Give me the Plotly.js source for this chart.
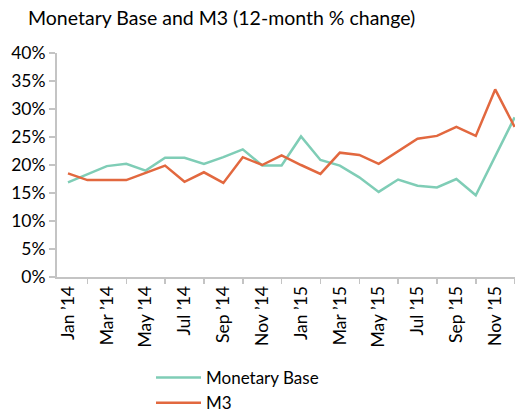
<!DOCTYPE html>
<html>
<head>
<meta charset="utf-8">
<script src="https://cdn.plot.ly/plotly-3.0.1.min.js"></script>
<style>html,body{margin:0;padding:0;background:#fff;}#chart{width:516px;height:412px;}</style>
</head>
<body>
<div id="chart"></div>
<script>
const months = ["Jan ’14","Feb ’14","Mar ’14","Apr ’14","May ’14","Jun ’14","Jul ’14","Aug ’14","Sep ’14","Oct ’14","Nov ’14","Dec ’14",
                "Jan ’15","Feb ’15","Mar ’15","Apr ’15","May ’15","Jun ’15","Jul ’15","Aug ’15","Sep ’15","Oct ’15","Nov ’15","Dec ’15"];
const monetaryBase = [16.9,18.4,19.8,20.2,19.0,21.3,21.3,20.2,21.4,22.8,19.9,19.9,25.1,20.9,19.9,17.8,15.2,17.4,16.3,16.0,17.5,14.6,21.6,28.5];
const m3 = [18.5,17.3,17.3,17.3,18.6,19.9,17.0,18.7,16.8,21.4,20.0,21.7,20.0,18.4,22.2,21.8,20.2,22.4,24.7,25.2,26.8,25.2,33.5,26.8];
const labelIdx = [0,2,4,6,8,10,12,14,16,18,20,22];

const idx = months.map((m,i)=>i);
const FONT = "Lato, 'Open Sans', sans-serif";
const data = [
  {x: idx, y: monetaryBase, name: "Monetary Base", type: "scatter", mode: "lines",
   line: {color: "#7fcdb6", width: 2.5}, hoverinfo: "skip"},
  {x: idx, y: m3, name: "M3", type: "scatter", mode: "lines",
   line: {color: "#e2683f", width: 2.5}, hoverinfo: "skip"}
];
const layout = {
  width: 516, height: 412,
  margin: {l: 57, r: 1, t: 53, b: 134.5, autoexpand: false},
  paper_bgcolor: "#fff", plot_bgcolor: "#fff",
  font: {family: FONT, color: "#000", size: 17.5},
  title: {text: "Monetary Base and M3 (12-month % change)", x: 28/516, xanchor: "left", xref: "container",
          y: 1 - 18/412, yanchor: "middle", yref: "container", font: {family: FONT, size: 19.5, color: "#000"}},
  xaxis: {range: [-0.566, 23.02], tickmode: "array", tickvals: labelIdx, ticktext: labelIdx.map(i=>months[i]),
          tickangle: -90, ticks: "", showgrid: false, zeroline: false, automargin: false,
          showline: true, linecolor: "#c4c4c4", linewidth: 2,
          tickfont: {size: 17.5, family: FONT, color: "#000"},
          minor: {tickmode: "linear", tick0: 1, dtick: 2, ticks: "outside", ticklen: 5, tickcolor: "#c4c4c4", tickwidth: 1.5, showgrid: false}},
  yaxis: {range: [0, 40], dtick: 5, ticksuffix: "%", showgrid: false, zeroline: false, automargin: false,
          showline: true, linecolor: "#c4c4c4", linewidth: 2,
          ticks: "outside", ticklen: 6, tickcolor: "#c4c4c4", tickwidth: 1.5,
          tickfont: {size: 17.5, family: FONT, color: "#000"}},
  showlegend: true,
  legend: {orientation: "v", xref: "container", yref: "container", x: 151/516, xanchor: "left",
           y: 1 - 360/412, yanchor: "top", itemwidth: 45, tracegroupgap: 0,
           font: {size: 17, family: FONT, color: "#000"}, bgcolor: "rgba(0,0,0,0)"}
};
Plotly.newPlot("chart", data, layout, {staticPlot: true, displayModeBar: false});
</script>
</body>
</html>
